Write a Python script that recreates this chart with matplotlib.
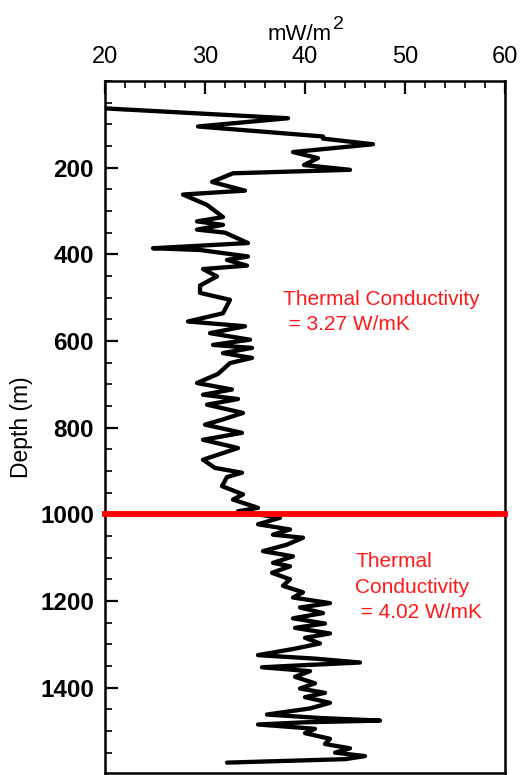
import numpy as np
import matplotlib
matplotlib.use("Agg")
import matplotlib.pyplot as plt
from matplotlib.ticker import MultipleLocator

plt.rcParams['font.family'] = ['Liberation Sans', 'DejaVu Sans']

# heat flow (mW/m2) vs depth (m)
depth = [63, 86, 105, 128, 133, 146, 164, 178, 194, 205, 213, 233, 253, 262,
         286, 314, 324, 332, 343, 350, 374, 386, 390, 405, 413, 426, 434, 451,
         472, 489, 505, 536, 555, 566, 582, 597, 609, 616, 628, 639, 651, 676,
         697, 712, 724, 734, 747, 766, 781, 793, 812, 828, 847, 874, 893, 904,
         914, 935, 954, 966, 985, 993, 1008, 1023, 1035, 1047, 1054, 1070, 1085,
         1097, 1112, 1120, 1135, 1150, 1165, 1180, 1192, 1205, 1215, 1228, 1240,
         1252, 1262, 1275, 1285, 1298, 1310, 1325, 1333, 1342, 1348, 1353, 1362,
         1375, 1390, 1402, 1412, 1422, 1435, 1448, 1462, 1470, 1476, 1480, 1485,
         1495, 1505, 1518, 1530, 1540, 1550, 1558, 1565, 1573]
heatflow = [19.8, 38.3, 29.3, 41.8, 41.8, 46.8, 38.8, 41.3, 39.9, 44.5, 32.8,
            30.7, 34.0, 27.8, 30.2, 31.8, 29.2, 31.8, 29.2, 32.0, 34.3, 24.8,
            29.5, 34.3, 32.2, 34.2, 29.8, 31.2, 29.5, 29.5, 32.5, 31.8, 28.3,
            34.0, 30.5, 34.5, 30.8, 34.7, 31.8, 34.7, 32.5, 31.3, 29.2, 32.7,
            29.8, 33.3, 30.2, 33.8, 31.8, 30.0, 33.7, 29.8, 33.3, 29.8, 31.0,
            33.7, 32.2, 31.7, 33.8, 32.8, 35.3, 33.3, 37.5, 35.3, 38.5, 36.8,
            39.8, 38.2, 35.8, 38.8, 36.8, 38.5, 36.7, 38.5, 37.8, 39.8, 38.8,
            42.5, 39.5, 41.8, 38.8, 42.0, 39.0, 42.5, 40.0, 41.5, 39.0, 35.3,
            41.0, 45.5, 40.0, 35.7, 40.5, 39.0, 41.0, 39.5, 42.0, 40.0, 42.5,
            40.5, 36.2, 41.5, 47.5, 40.0, 35.3, 41.0, 40.0, 42.5, 42.0, 44.5,
            43.0, 46.0, 44.0, 32.2]

boundary_depth = 1000
upper_label = 'Thermal Conductivity\n = 3.27 W/mK'
lower_label = 'Thermal\nConductivity\n = 4.02 W/mK'

fig = plt.figure(figsize=(5.2, 7.75), dpi=100)
ax = fig.add_axes([105 / 520, 0.002, 400 / 520, 0.8935])

ax.plot(heatflow, depth, color='black', lw=3.1, solid_joinstyle='round',
        solid_capstyle='round')
ax.axhline(boundary_depth, color='#ff0000', lw=4.2, clip_on=False, zorder=3)

ax.set_xlim(20, 60)
ax.set_ylim(1598, 0)

ax.xaxis.tick_top()
ax.set_xticks([20, 30, 40, 50, 60])
ax.xaxis.set_minor_locator(MultipleLocator(2))
ax.set_yticks(range(200, 1600, 200))
ax.yaxis.set_minor_locator(MultipleLocator(50))

ax.tick_params(axis='both', which='major', direction='in', length=9.5, width=1.6)
ax.tick_params(axis='both', which='minor', direction='in', length=4.8, width=1.2)
ax.tick_params(axis='x', which='major', labelsize=17, pad=9)
ax.tick_params(axis='y', which='major', labelsize=17.5, pad=8)
for lab in ax.get_yticklabels():
    lab.set_fontweight('bold')

for sp in ax.spines.values():
    sp.set_linewidth(1.8)

# unit label on top, with a big superscript like the original
fig.text(332 / 520, 1 - 40 / 775, 'mW/m', fontsize=16, ha='right', va='baseline')
fig.text(333 / 520, 1 - 29 / 775, '2', fontsize=14, ha='left', va='baseline')
ax.set_ylabel('Depth (m)', fontsize=16.5, labelpad=5)

ax.text(37.8, 482, upper_label, color='#ff1a1a', fontsize=15,
        va='top', ha='left', linespacing=1.42)
ax.text(45.0, 1088, lower_label, color='#ff1a1a', fontsize=15,
        va='top', ha='left', linespacing=1.42)

fig.savefig('out.png', dpi=100)
